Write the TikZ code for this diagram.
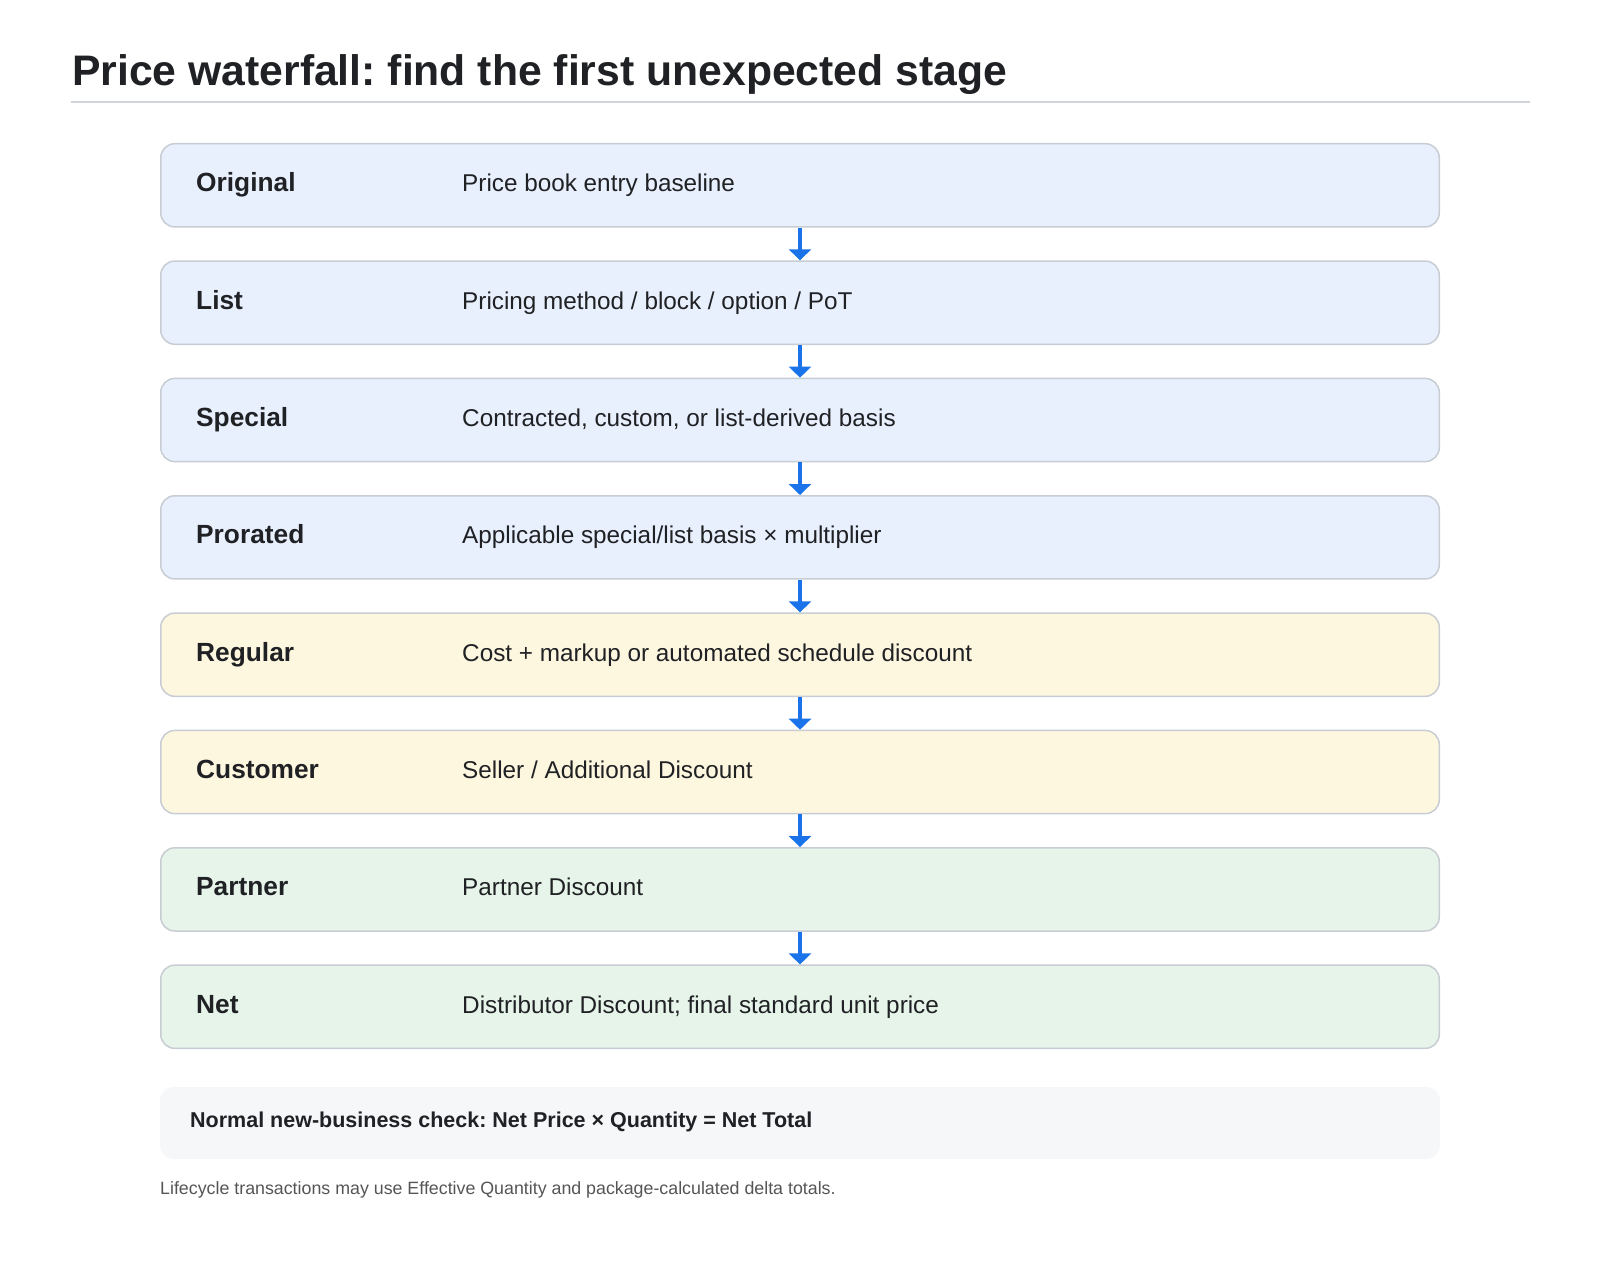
\documentclass[tikz,border=0pt]{standalone}
\usepackage{fontspec}
\setmainfont{Liberation Sans}
\frenchspacing
\usetikzlibrary{arrows.meta}
\definecolor{inkgray}{RGB}{32,33,36}
\definecolor{rulegray}{RGB}{208,211,216}
\definecolor{boxline}{RGB}{200,205,212}
\definecolor{bluefill}{RGB}{232,240,254}
\definecolor{yellowfill}{RGB}{254,247,224}
\definecolor{greenfill}{RGB}{230,244,234}
\definecolor{checkfill}{RGB}{246,247,249}
\definecolor{flowblue}{RGB}{26,115,232}
\definecolor{notegray}{RGB}{85,85,85}

\tikzset{
  stagebox/.style={draw=boxline,line width=1.5pt,rounded corners=14pt,
    minimum width=1278.5pt,minimum height=83.2pt,inner sep=0pt},
  stagename/.style={anchor=base west,inner sep=0pt,text=inkgray,
    font=\fontsize{26.3}{30}\selectfont\bfseries},
  stagetext/.style={anchor=base west,inner sep=0pt,text=inkgray,
    font=\fontsize{24.3}{28}\selectfont},
  flow/.style={draw=flowblue,line width=4pt,-{Triangle[width=22pt,length=11pt]}}
}

\begin{document}
\begin{tikzpicture}[x=1pt,y=-1pt]
        % page
        \useasboundingbox (0,0) rectangle (1600,1262);
        % title and rule
        \node[anchor=base west,inner sep=0pt,text=inkgray,font=\fontsize{42.7}{48}\selectfont\bfseries]
            (title) at (72,85) {Price waterfall: find the first unexpected stage};
        \draw[rulegray,line width=2pt] (71,102) -- (1530,102);
        % stage boxes
        \node[stagebox,fill=bluefill]   (original) at (800,185.3)   {};
        \node[stagebox,fill=bluefill]   (list)     at (800,302.65)  {};
        \node[stagebox,fill=bluefill]   (special)  at (800,420.0)   {};
        \node[stagebox,fill=bluefill]   (prorated) at (800,537.35)  {};
        \node[stagebox,fill=yellowfill] (regular)  at (800,654.7)   {};
        \node[stagebox,fill=yellowfill] (customer) at (800,772.05)  {};
        \node[stagebox,fill=greenfill]  (partner)  at (800,889.4)   {};
        \node[stagebox,fill=greenfill]  (net)      at (800,1006.75) {};
        % stage names
        \node[stagename] (original-name) at (196,191.7)   {Original};
        \node[stagename] (list-name)     at (196,309.05)  {List};
        \node[stagename] (special-name)  at (196,426.4)   {Special};
        \node[stagename] (prorated-name) at (196,543.75)  {Prorated};
        \node[stagename] (regular-name)  at (196,661.1)   {Regular};
        \node[stagename] (customer-name) at (196,778.45)  {Customer};
        \node[stagename] (partner-name)  at (196,895.8)   {Partner};
        \node[stagename] (net-name)      at (196,1013.15) {Net};
        % stage descriptions
        \node[stagetext] (original-text) at (462,191.7)   {Price book entry baseline};
        \node[stagetext] (list-text)     at (462,309.05)  {Pricing method / block / option / PoT};
        \node[stagetext] (special-text)  at (462,426.4)   {Contracted, custom, or list-derived basis};
        \node[stagetext] (prorated-text) at (462,543.75)  {Applicable special/list basis × multiplier};
        \node[stagetext] (regular-text)  at (462,661.1)   {Cost + markup or automated schedule discount};
        \node[stagetext] (customer-text) at (462,778.45)  {Seller / Additional Discount};
        \node[stagetext] (partner-text)  at (462,895.8)   {Partner Discount};
        \node[stagetext] (net-text)      at (462,1013.15) {Distributor Discount; final standard unit price};
        % flow arrows
        \draw[flow] (original) -- (list);
        \draw[flow] (list) -- (special);
        \draw[flow] (special) -- (prorated);
        \draw[flow] (prorated) -- (regular);
        \draw[flow] (regular) -- (customer);
        \draw[flow] (customer) -- (partner);
        \draw[flow] (partner) -- (net);
        % check box
        \node[fill=checkfill,rounded corners=14pt,minimum width=1280pt,minimum height=72pt,inner sep=0pt]
            (check) at (800,1123) {};
        \node[anchor=base west,inner sep=0pt,text=inkgray,font=\fontsize{21.5}{25}\selectfont\bfseries]
            (check-text) at (190,1127.3) {Normal new-business check: Net Price × Quantity = Net Total};
        % footnote
        \node[anchor=base west,inner sep=0pt,text=notegray,font=\fontsize{17.8}{21}\selectfont]
            (note) at (160,1194) {Lifecycle transactions may use Effective Quantity and package-calculated delta totals.};
    \end{tikzpicture}
\end{document}
